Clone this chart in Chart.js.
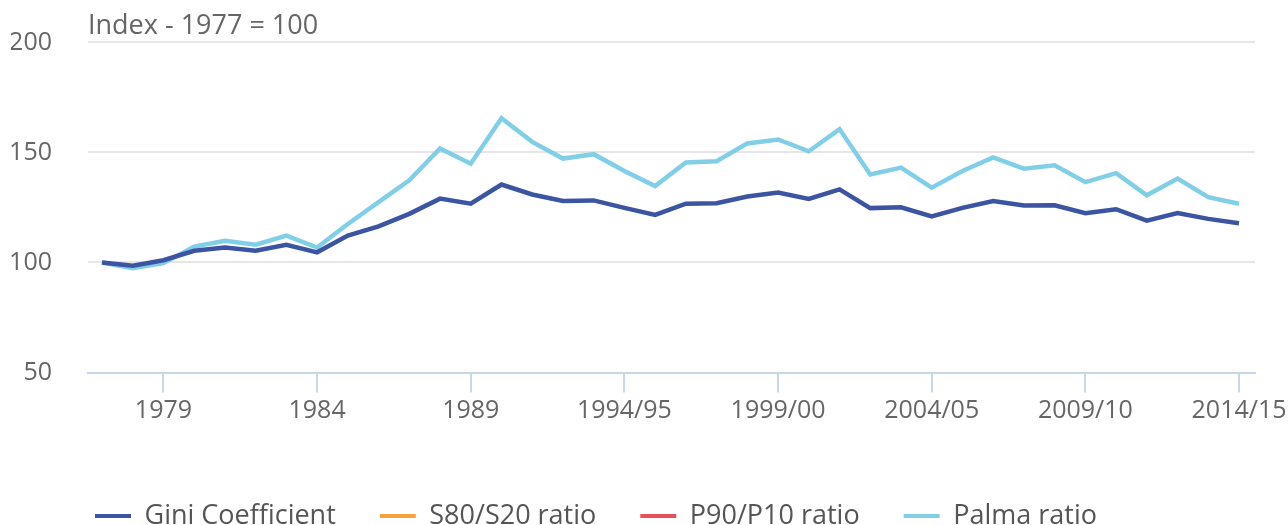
<!DOCTYPE html>
<html>
<head>
<meta charset="utf-8">
<script src="https://cdn.jsdelivr.net/npm/chart.js@4/dist/chart.umd.min.js"></script>
<style>
  html, body { margin: 0; padding: 0; background: #ffffff; }
  #wrap { width: 1288px; height: 525px; position: relative; }
</style>
</head>
<body>
<div id="wrap"><canvas id="c"></canvas></div>
<script>
const categories = [
  '1977','1978','1979','1980','1981','1982','1983','1984','1985','1986',
  '1987','1988','1989','1990','1991','1992','1993',
  '1994/95','1995/96','1996/97','1997/98','1998/99','1999/00','2000/01','2001/02',
  '2002/03','2003/04','2004/05','2005/06','2006/07','2007/08','2008/09','2009/10',
  '2010/11','2011/12','2012/13','2013/14','2014/15'
];
const tickLabels = ['1979','1984','1989','1994/95','1999/00','2004/05','2009/10','2014/15'];
const yTicks = [50, 100, 150, 200];

const giniValues = [100, 98.5, 101, 105.3, 106.8, 105.3, 108, 104.6, 112.2, 116.4,
  122.1, 129, 126.7, 135.4, 130.9, 127.9, 128.2, 124.8, 121.6, 126.7,
  126.9, 130, 131.8, 128.9, 133.2, 124.7, 125.1, 120.9, 124.8, 127.9,
  125.9, 126, 122.4, 124.2, 119, 122.5, 119.8, 117.8];
const s80s20Values = [];
const p90p10Values = [];
const palmaValues = [100, 97.4, 99.7, 107.2, 109.9, 108.1, 112.2, 106.8, 117.5, 127.4,
  137.3, 151.8, 144.9, 165.5, 154.8, 147.2, 149.2, 141.6, 134.7, 145.4,
  146, 154.1, 155.9, 150.5, 160.6, 140, 143.1, 134, 141.6, 147.7,
  142.6, 144.2, 136.5, 140.6, 130.5, 138.1, 129.7, 126.7];

const seriesNames = ['Gini Coefficient', 'S80/S20 ratio', 'P90/P10 ratio', 'Palma ratio'];
const seriesColors = ['#3b55a3', '#f7a23c', '#e9505a', '#80cfe7'];
const seriesValues = [giniValues, s80s20Values, p90p10Values, palmaValues];

const toPoints = vals => vals.map((v, i) => ({ x: i, y: v }));

const FONT = "'Open Sans', 'Noto Sans', sans-serif";

const adjustPlugin = {
  id: 'adjustPlugin',
  afterLayout(chart) {
    const t = chart.titleBlock;
    if (t) { const w = t.right - t.left; t.left = chart.chartArea.left; t.right = t.left + w; }
    const lg = chart.legend;
    if (lg) {
      const pad = lg.options.labels.padding;
      const w = lg.right - lg.left, h = lg.bottom - lg.top;
      lg.left = 95 - pad; lg.right = lg.left + w;
      lg.top = 458.5; lg.bottom = lg.top + h;
    }
  }
};

new Chart(document.getElementById('c'), {
  type: 'line',
  data: {
    datasets: seriesNames.map((name, k) => ({
      label: name,
      data: toPoints(seriesValues[k]),
      borderColor: seriesColors[k],
      backgroundColor: seriesColors[k],
      borderWidth: 4.5,
      pointRadius: 0,
      pointHoverRadius: 0,
      tension: 0,
      fill: false
    }))
  },
  options: {
    responsive: true,
    maintainAspectRatio: false,
    animation: false,
    layout: { padding: { left: 11, right: 33, top: 0, bottom: 15.5 } },
    plugins: {
      tooltip: { enabled: false },
      title: {
        display: true,
        text: 'Index - 1977 = 100',
        align: 'start',
        color: '#666666',
        font: { family: FONT, size: 27, weight: 'normal' },
        padding: { top: 10, bottom: 0 }
      },
      legend: {
        display: true,
        position: 'bottom',
        align: 'start',
        labels: {
          color: '#555555',
          font: { family: FONT, size: 27 },
          boxWidth: 36,
          boxHeight: 4,
          padding: 44,
          generateLabels(chart) {
            const items = Chart.defaults.plugins.legend.labels.generateLabels(chart);
            items.forEach(it => { it.lineWidth = 0; it.fillStyle = it.strokeStyle; });
            return items;
          }
        }
      }
    },
    scales: {
      x: {
        type: 'linear',
        min: -0.455,
        max: 37.52,
        afterBuildTicks(scale) {
          scale.ticks = tickLabels.map(l => ({ value: categories.indexOf(l) }));
        },
        afterFit(scale) { scale.paddingLeft = 0; scale.paddingRight = 0; },
        ticks: {
          color: '#666666',
          font: { family: FONT, size: 25 },
          padding: 3,
          maxRotation: 0,
          autoSkip: false,
          callback: v => categories[v]
        },
        grid: {
          display: true,
          drawOnChartArea: false,
          drawTicks: true,
          tickLength: 20,
          color: '#ccd6eb',
          lineWidth: 2
        },
        border: { display: true, color: '#ccd6eb', width: 2 }
      },
      y: {
        min: 50,
        max: 200,
        afterBuildTicks(scale) {
          scale.ticks = yTicks.map(v => ({ value: v }));
        },
        afterFit(scale) { scale.width = 77; scale.paddingTop = 0; scale.paddingBottom = 0; },
        ticks: {
          color: '#666666',
          font: { family: FONT, size: 25 },
          padding: 36
        },
        grid: {
          color: '#e6e6e6',
          lineWidth: 2,
          drawTicks: false
        },
        border: { display: false }
      }
    }
  },
  plugins: [adjustPlugin]
});
</script>
</body>
</html>
